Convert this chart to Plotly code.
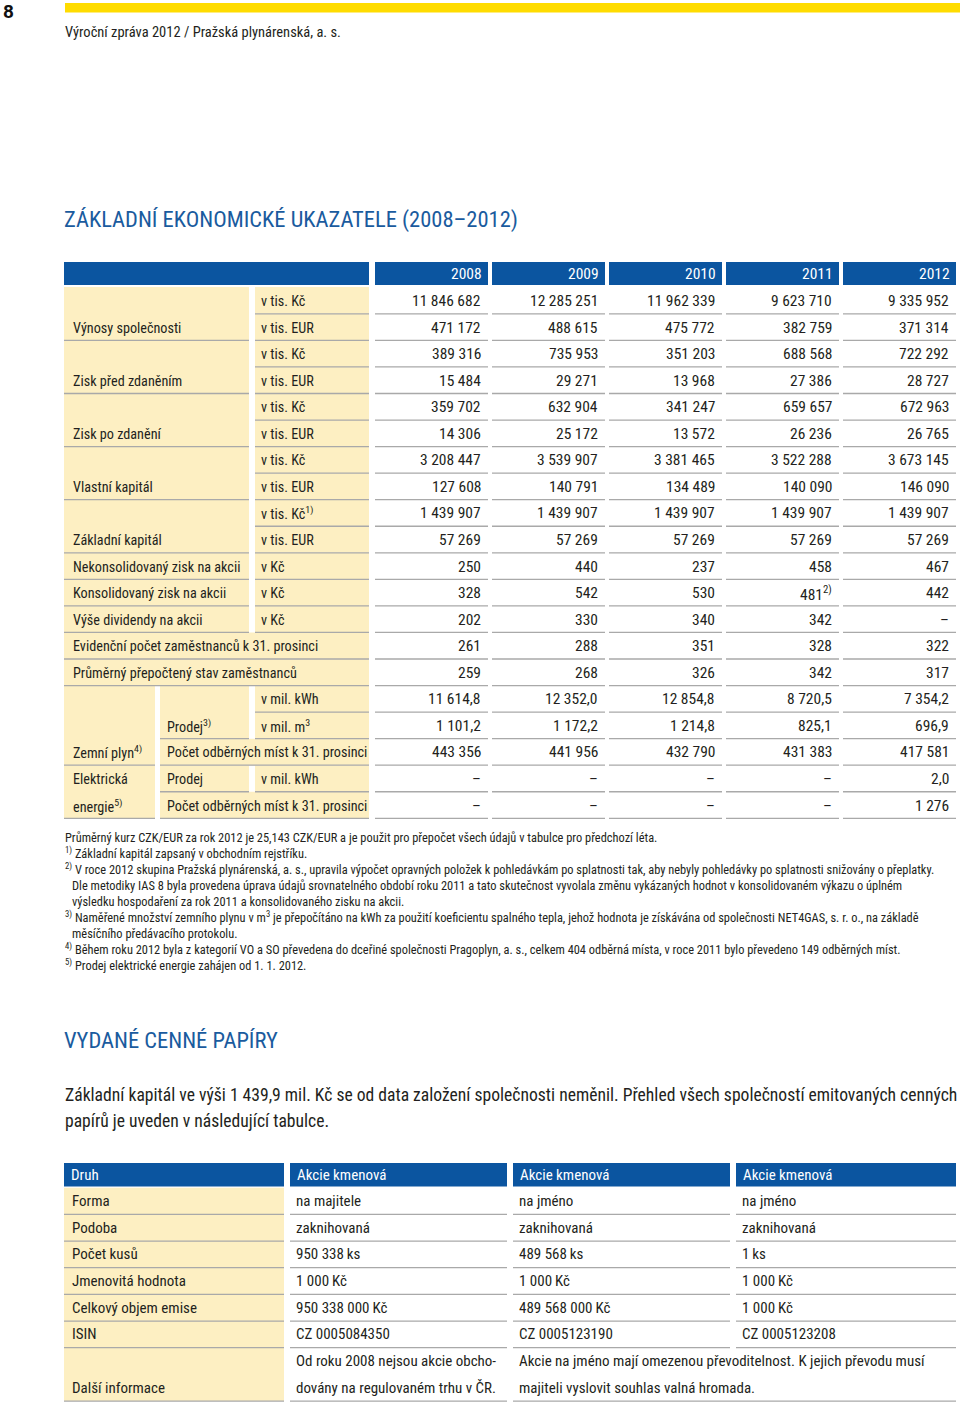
import plotly.graph_objects as go

W, H = 960, 1404

# --- data: základní ekonomické ukazatele ---
years = ["2008", "2009", "2010", "2011", "2012"]
values_2008 = [11846682, 471172, 389316, 15484, 359702, 14306, 3208447, 127608, 1439907, 57269,
               250, 328, 202, 261, 259, 11614.8, 1101.2, 443356, None, None]
values_2009 = [12285251, 488615, 735953, 29271, 632904, 25172, 3539907, 140791, 1439907, 57269,
               440, 542, 330, 288, 268, 12352.0, 1172.2, 441956, None, None]
values_2010 = [11962339, 475772, 351203, 13968, 341247, 13572, 3381465, 134489, 1439907, 57269,
               237, 530, 340, 351, 326, 12854.8, 1214.8, 432790, None, None]
values_2011 = [9623710, 382759, 688568, 27386, 659657, 26236, 3522288, 140090, 1439907, 57269,
               458, 481, 342, 328, 342, 8720.5, 825.1, 431383, None, None]
values_2012 = [9335952, 371314, 722292, 28727, 672963, 26765, 3673145, 146090, 1439907, 57269,
               467, 442, None, 322, 317, 7354.2, 696.9, 417581, 2.0, 1276]
decimals = [0] * 15 + [1, 1, 0, 1, 0]
value_notes = {(11, 3): "2)"}  # 481 with footnote 2)

group_names = ["Výnosy společnosti", "Zisk před zdaněním", "Zisk po zdanění", "Vlastní kapitál", "Základní kapitál"]
group_units = [["v tis. Kč", "v tis. EUR"]] * 4 + [["v tis. Kč<sup>1)</sup>", "v tis. EUR"]]
single_names = ["Nekonsolidovaný zisk na akcii", "Konsolidovaný zisk na akcii", "Výše dividendy na akcii"]
wide_names = ["Evidenční počet zaměstnanců k 31. prosinci", "Průměrný přepočtený stav zaměstnanců"]

footnotes = [
    ("", "Průměrný kurz CZK/EUR za rok 2012 je 25,143 CZK/EUR a je použit pro přepočet všech údajů v tabulce pro předchozí léta."),
    ("1)", "Základní kapitál zapsaný v obchodním rejstříku."),
    ("2)", "V roce 2012 skupina Pražská plynárenská, a. s., upravila výpočet opravných položek k pohledávkám po splatnosti tak, aby nebyly pohledávky po splatnosti snižovány o přeplatky."),
    (None, "Dle metodiky IAS 8 byla provedena úprava údajů srovnatelného období roku 2011 a tato skutečnost vyvolala změnu vykázaných hodnot v konsolidovaném výkazu o úplném"),
    (None, "výsledku hospodaření za rok 2011 a konsolidovaného zisku na akcii."),
    ("3)", "Naměřené množství zemního plynu v m<sup>3</sup> je přepočítáno na kWh za použití koeficientu spalného tepla, jehož hodnota je získávána od společnosti NET4GAS, s. r. o., na základě"),
    (None, "měsíčního předávacího protokolu."),
    ("4)", "Během roku 2012 byla z kategorií VO a SO převedena do dceřiné společnosti Pragoplyn, a. s., celkem 404 odběrná místa, v roce 2011 bylo převedeno 149 odběrných míst."),
    ("5)", "Prodej elektrické energie zahájen od 1. 1. 2012."),
]

# --- data: vydané cenné papíry ---
t2_header = ["Druh", "Akcie kmenová", "Akcie kmenová", "Akcie kmenová"]
t2_labels = ["Forma", "Podoba", "Počet kusů", "Jmenovitá hodnota", "Celkový objem emise", "ISIN", "Další informace"]
issue_1 = ["na majitele", "zaknihovaná", "950 338\u2009ks", "1 000\u2009Kč", "950 338 000\u2009Kč", "CZ 0005084350"]
issue_2 = ["na jméno", "zaknihovaná", "489 568\u2009ks", "1 000\u2009Kč", "489 568 000\u2009Kč", "CZ 0005123190"]
issue_3 = ["na jméno", "zaknihovaná", "1\u2009ks", "1 000\u2009Kč", "1 000\u2009Kč", "CZ 0005123208"]
info_1 = ["Od roku 2008 nejsou akcie obcho-", "dovány na regulovaném trhu v ČR."]
info_23 = ["Akcie na jméno mají omezenou převoditelnost. K jejich převodu musí",
           "majiteli vyslovit souhlas valná hromada."]

# --- style ---
BLUE = "#0b55a0"
TITLE_BLUE = "#1a5b9e"
YELLOW = "#fdefc2"
BAR = "#ffdc00"
GRID = "#a9a9a9"
INK = "#231f20"
FONT = "Roboto Condensed, Roboto, sans-serif"

fig = go.Figure()
fig.add_trace(go.Scatter(x=[0], y=[0], mode="markers", marker=dict(opacity=0), hoverinfo="skip"))


def rect(x0, y0, x1, y1, color):
    fig.add_shape(type="rect", xref="x", yref="y", x0=x0, y0=y0, x1=x1, y1=y1,
                  fillcolor=color, line_width=0, layer="below")


def hline(x0, x1, y):
    fig.add_shape(type="line", xref="x", yref="y", x0=x0, y0=y, x1=x1, y1=y,
                  line=dict(color=GRID, width=1.3))


def text(x, y, s, size=14.2, color=INK, anchor="left", family=FONT):
    fig.add_annotation(x=x, y=y, xref="x", yref="y", text=s, showarrow=False,
                       xanchor=anchor, yanchor="middle", borderpad=0,
                       font=dict(family=family, size=size, color=color))


def fmt(v, d):
    if v is None:
        return "–"
    return f"{v:,.{d}f}".replace(",", " ").replace(".", ",")


# page head
text(2, 11, "<b>8</b>", size=19, color="#111", family="Roboto, sans-serif")
rect(65, 3, W, 12.5, BAR)
text(64, 32, "Výroční zpráva 2012 / Pražská plynárenská, a. s.", size=14.5)

# table 1
text(63, 219, "ZÁKLADNÍ EKONOMICKÉ UKAZATELE (2008–2012)", size=22.5, color=TITLE_BLUE)

T1_TOP, T1_ROW = 287.3, 26.55
year_x0 = [375 + 117 * i for i in range(5)]
YEAR_W = 113
rect(64, 262, 369, 285, BLUE)
for i, yr in enumerate(years):
    rect(year_x0[i], 262, year_x0[i] + YEAR_W, 285, BLUE)
    text(year_x0[i] + YEAR_W - 5, 274, yr, size=15.5, color="white", anchor="right")


def row_y(r):
    return T1_TOP + r * T1_ROW


cols = {"L": (64, 249, 8), "U": (255, 369, 5), "W": (64, 369, 8), "A": (64, 155, 8),
        "B": (160, 249, 6), "BC": (160, 369, 6), "C": (255, 369, 5)}
cells = []
for g, name in enumerate(group_names):
    r = 2 * g
    cells.append((r, r + 1, "L", [(r + 1, name)]))
    cells.append((r, r, "U", [(r, group_units[g][0])]))
    cells.append((r + 1, r + 1, "U", [(r + 1, group_units[g][1])]))
for k, name in enumerate(single_names):
    r = 10 + k
    cells.append((r, r, "L", [(r, name)]))
    cells.append((r, r, "U", [(r, "v Kč")]))
for k, name in enumerate(wide_names):
    cells.append((13 + k, 13 + k, "W", [(13 + k, name)]))
cells += [
    (15, 17, "A", [(17, "Zemní plyn<sup>4)</sup>")]),
    (15, 16, "B", [(16, "Prodej<sup>3)</sup>")]),
    (15, 15, "C", [(15, "v mil. kWh")]),
    (16, 16, "C", [(16, "v mil. m<sup>3</sup>")]),
    (17, 17, "BC", [(17, "Počet odběrných míst k 31. prosinci")]),
    (18, 19, "A", [(18, "Elektrická"), (19, "energie<sup>5)</sup>")]),
    (18, 18, "B", [(18, "Prodej")]),
    (18, 18, "C", [(18, "v mil. kWh")]),
    (19, 19, "BC", [(19, "Počet odběrných míst k 31. prosinci")]),
]
for r0, r1, key, texts in cells:
    x0, x1, pad = cols[key]
    top = 287 if r0 == 0 else row_y(r0)
    rect(x0, top, x1, row_y(r1 + 1), YELLOW)
    hline(x0, x1, row_y(r1 + 1))
    for r, s in texts:
        text(x0 + pad, row_y(r) + T1_ROW / 2 + 0.5, s)

columns = [values_2008, values_2009, values_2010, values_2011, values_2012]
for c, vals in enumerate(columns):
    x0 = year_x0[c]
    for r, v in enumerate(vals):
        hline(x0, x0 + YEAR_W, row_y(r + 1))
        s = fmt(v, decimals[r])
        note = value_notes.get((r, c))
        if note:
            s += f"<sup>{note}</sup>"
        text(x0 + YEAR_W - 6, row_y(r) + T1_ROW / 2 + 0.5, s, size=15.5, anchor="right")

# footnotes
for i, (mark, line) in enumerate(footnotes):
    y = 837 + 16 * i
    if mark is None:
        text(71, y, line, size=12.4)
    elif mark == "":
        text(64, y, line, size=12.4)
    else:
        text(64, y, f"<sup>{mark}</sup> {line}", size=12.4)

# table 2
text(63, 1040, "VYDANÉ CENNÉ PAPÍRY", size=22.5, color=TITLE_BLUE)
text(64, 1095, "Základní kapitál ve výši 1 439,9 mil. Kč se od data založení společnosti neměnil. "
     "Přehled všech společností emitovaných cenných", size=17.6)
text(64, 1121, "papírů je uveden v následující tabulce.", size=17.6)

t2_x0 = [64, 290, 513, 736]
t2_x1 = [284, 507, 730, 956]
T2_TOP, T2_ROW = 1187.7, 26.67
for j, h in enumerate(t2_header):
    rect(t2_x0[j], 1163, t2_x1[j], 1186.5, BLUE)
    text(t2_x0[j] + 6, 1175, h, size=15, color="white")

rect(64, T2_TOP, 284, T2_TOP + 8 * T2_ROW, YELLOW)
issues = [issue_1, issue_2, issue_3]
for r, lab in enumerate(t2_labels[:-1]):
    yb = T2_TOP + (r + 1) * T2_ROW
    yc = T2_TOP + (r + 0.5) * T2_ROW
    text(71, yc, lab, size=15)
    hline(t2_x0[0], t2_x1[0], yb)
    for j, iss in enumerate(issues):
        hline(t2_x0[j + 1], t2_x1[j + 1], yb)
        text(t2_x0[j + 1] + 5, yc, iss[r], size=15)
r = len(t2_labels) - 1
yb = T2_TOP + (r + 2) * T2_ROW
text(71, T2_TOP + (r + 1.5) * T2_ROW, t2_labels[-1], size=15)
hline(t2_x0[0], t2_x1[0], yb)
hline(t2_x0[1], t2_x1[1], yb)
hline(t2_x0[2], t2_x1[3], yb)
for k in range(2):
    yc = T2_TOP + (r + 0.5 + k) * T2_ROW
    text(t2_x0[1] + 5, yc, info_1[k], size=15)
    text(t2_x0[2] + 5, yc, info_23[k], size=15)

fig.update_layout(
    width=W, height=H, margin=dict(l=0, r=0, t=0, b=0),
    paper_bgcolor="white", plot_bgcolor="white", showlegend=False,
    xaxis=dict(range=[0, W], visible=False, fixedrange=True),
    yaxis=dict(range=[H, 0], visible=False, fixedrange=True),
)

fig.write_html("out.html", config={"displayModeBar": False},
               post_script="document.body.style.margin='0';")
